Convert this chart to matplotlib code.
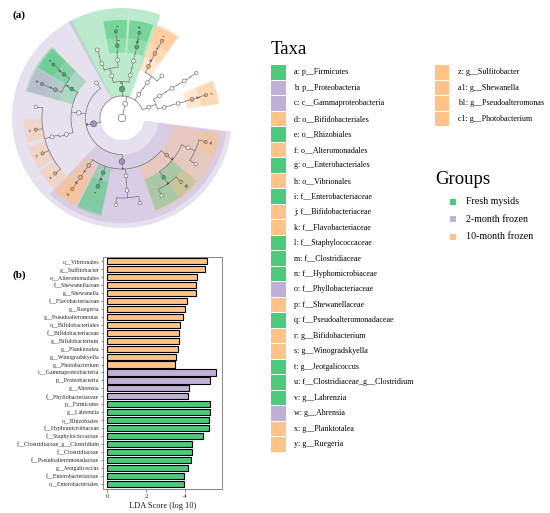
import numpy as np
import matplotlib
matplotlib.use("Agg")
import matplotlib.pyplot as plt
from matplotlib.patches import Wedge, Circle, Rectangle

plt.rcParams['font.family'] = ['Liberation Serif', 'DejaVu Serif']

# group colours
GREEN = "#4cc97a"
PURPLE = "#c2afd7"
ORANGE = "#ffc287"
group_color = {"G": GREEN, "P": PURPLE, "O": ORANGE}

# ---------------- LDA bar data (top to bottom) ----------------
bar_labels = [
    "o__Vibrionales", "g__Sulfitobacter", "o__Alteromonadales", "f__Shewanellaceae",
    "g__Shewanella", "f__Flavobacteriaceae", "g__Ruegeria", "g__Pseudoalteromonas",
    "o__Bifidobacteriales", "f__Bifidobacteriaceae", "g__Bifidobacterium",
    "g__Planktotalea", "g__Winogradskyella", "g__Photobacterium",
    "c__Gammaproteobacteria", "p__Proteobacteria", "g__Ahrensia", "f__Phyllobacteriaceae",
    "p__Firmicutes", "g__Labrenzia", "o__Rhizobiales", "f__Hyphomicrobiaceae",
    "f__Staphylococcaceae", "f__Clostridiaceae_g__Clostridium", "f__Clostridiaceae",
    "f__Pseudoalteromonadaceae", "g__Jeotgalicoccus", "f__Enterobacteriaceae",
    "o__Enterobacteriales",
]
bar_values = [5.17, 5.03, 4.62, 4.60, 4.60, 4.14, 4.02, 3.91, 3.78, 3.72, 3.71, 3.66,
              3.55, 3.50, 5.64, 5.29, 4.21, 4.19, 5.31, 5.29, 5.28, 5.28, 4.93, 4.38,
              4.36, 4.34, 4.16, 3.97, 3.97]
bar_groups = ["O"] * 14 + ["P"] * 4 + ["G"] * 11

# ---------------- legend (taxa) ----------------
taxa_keys = ["a", "b", "c", "d", "e", "f", "g", "h", "i", "j", "k", "l", "m", "n", "o",
             "p", "q", "r", "s", "t", "u", "v", "w", "x", "y", "z", "a1", "b1", "c1"]
taxa_names = ["p__Firmicutes", "p__Proteobacteria", "c__Gammaproteobacteria",
              "o__Bifidobacteriales", "o__Rhizobiales", "o__Alteromonadales",
              "o__Enterobacteriales", "o__Vibrionales", "f__Enterobacteriaceae",
              "f__Bifidobacteriaceae", "f__Flavobacteriaceae", "f__Staphylococcaceae",
              "f__Clostridiaceae", "f__Hyphomicrobiaceae", "f__Phyllobacteriaceae",
              "f__Shewanellaceae", "f__Pseudoalteromonadaceae", "g__Bifidobacterium",
              "g__Winogradskyella", "g__Jeotgalicoccus", "f__Clostridiaceae_g__Clostridium",
              "g__Labrenzia", "g__Ahrensia", "g__Planktotalea", "g__Ruegeria",
              "g__Sulfitobacter", "g__Shewanella", "g__Pseudoalteromonas",
              "g__Photobacterium"]
taxa_groups = ["G", "P", "P", "O", "G", "O", "G", "O", "G", "O", "O", "G", "G", "G", "P",
               "O", "G", "O", "O", "G", "G", "G", "P", "O", "O", "O", "O", "O", "O"]

group_names = ["Fresh mysids", "2-month frozen", "10-month frozen"]
group_keys = ["G", "P", "O"]

# ---------------- cladogram tree: name, parent, level, angle(deg), group ----------------
level_radius = [0, 14.5, 29, 43.5, 58, 72.5, 87]
tree = [
    ("root", None, 0, 0, None),
    ("K", "root", 1, 77, None),
    # Firmicutes
    ("a", "K", 2, 90, "G"),
    ("bacilli", "a", 3, 103.7, None),
    ("bacillales", "bacilli", 4, 94.4, None),
    ("l", "bacillales", 5, 93.8, "G"),
    ("t", "l", 6, 94.0, "G"),
    ("lacto_o", "bacilli", 4, 110.3, None),
    ("lacto_f", "lacto_o", 5, 110.0, None),
    ("clostridia", "a", 3, 79, None),
    ("clostridiales", "clostridia", 4, 78.6, None),
    ("m", "clostridiales", 5, 78.3, "G"),
    ("u", "m", 6, 78.5, "G"),
    # Actinobacteria
    ("actino", "K", 2, 54.7, None),
    ("actino_c", "actino", 3, 54.4, None),
    ("d", "actino_c", 4, 62.9, "O"),
    ("j", "d", 5, 63.0, "O"),
    ("r", "j", 6, 62.6, "O"),
    ("actino_o2", "actino_c", 4, 46.6, None),
    # Bacteroidetes
    ("bact", "K", 2, 22, None),
    ("bact_c1", "bact", 3, 30.5, None),
    ("bact_o1", "bact_c1", 4, 30.8, None),
    ("bact_f1", "bact_o1", 5, 30.8, None),
    ("bact_g1", "bact_f1", 6, 31.2, None),
    ("flavo_c", "bact", 3, 14.3, None),
    ("flavo_o", "flavo_c", 4, 14.6, None),
    ("k", "flavo_o", 5, 14.9, "O"),
    ("s", "k", 6, 15.3, "O"),
    # Proteobacteria
    ("b", "K", 2, 191.5, "P"),
    ("proteo_c2", "b", 3, 126, None),
    ("alpha", "b", 3, 173.3, None),
    ("e", "alpha", 4, 150, "G"),
    ("n", "e", 5, 143, "G"),
    ("v", "n", 6, 142, "G"),
    ("o", "e", 5, 157, "P"),
    ("w", "o", 6, 157, "P"),
    ("rhodo_o", "alpha", 4, 196.5, None),
    ("rhodo_f", "rhodo_o", 5, 195, None),
    ("rhodo_g1", "rhodo_f", 6, 172.7, None),
    ("x", "rhodo_f", 6, 187.7, "O"),
    ("y", "rhodo_f", 6, 204, "O"),
    ("z", "rhodo_f", 6, 219.7, "O"),
    ("c", "b", 3, 270, "P"),
    ("f", "c", 4, 235, "O"),
    ("p", "f", 5, 235, "O"),
    ("a1", "p", 6, 235, "O"),
    ("g", "c", 4, 251, "G"),
    ("i", "g", 5, 250.6, "G"),
    ("gam_o3", "c", 4, 274, None),
    ("gam_f3", "gam_o3", 5, 274, None),
    ("gam_g3a", "gam_f3", 6, 266, None),
    ("gam_g3b", "gam_f3", 6, 282, None),
    ("h", "c", 4, 320.3, "O"),
    ("q", "h", 5, 305, "G"),
    ("q_g1", "q", 6, 297, None),
    ("b1", "q", 6, 312.7, "O"),
    ("vib_f", "h", 5, 335.8, None),
    ("vib_g1", "vib_f", 6, 328, None),
    ("c1", "vib_f", 6, 344, "O"),
]

node_size = {"root": 3.8, "K": 2.4, "a": 2.7, "b": 3.0, "c": 2.8, "bact": 2.0,
             "actino": 2.0, "alpha": 2.2}

fig = plt.figure(figsize=(5.5, 5.13), dpi=100)

# ================= cladogram =================
cx, cy, half = 122, 118, 117
axc = fig.add_axes([(cx - half) / 550, (513 - cy - half) / 513, 2 * half / 550, 2 * half / 513])
axc.set_xlim(-half, half)
axc.set_ylim(-half, half)
axc.axis("off")

nodes = {t[0]: t for t in tree}
children = {}
for t in tree:
    if t[1] is not None:
        children.setdefault(t[1], []).append(t[0])


def leaf_angles(name):
    ch = children.get(name, [])
    if not ch:
        return [nodes[name][3]]
    out = []
    for c in ch:
        out += leaf_angles(c)
    return out


def polar(r, th):
    return r * np.cos(np.radians(th)), r * np.sin(np.radians(th))


# shaded clades
outer_by_level = {2: 110, 3: 105, 4: 100, 5: 98, 6: 98}
margin_by_level = {2: 9, 3: 8.5, 4: 7.5, 5: 7, 6: 7}
for lvl in range(2, 7):
    for name, parent, level, th, grp in tree:
        if grp is None or level != lvl:
            continue
        la = leaf_angles(name)
        m = margin_by_level[level]
        r_in = level_radius[level] - 7
        r_out = outer_by_level[level]
        axc.add_patch(Wedge((0, 0), r_out, min(la) - m, max(la) + m, width=r_out - r_in,
                            facecolor=group_color[grp], alpha=0.38, edgecolor="none", zorder=1))

# branches
for pname, ch in children.items():
    _, _, plev, pth, _ = nodes[pname]
    rp = level_radius[plev]
    clev = nodes[ch[0]][2]
    r_arc = level_radius[clev] - 7
    angs = [nodes[c][3] for c in ch] + ([pth] if rp > 0 else [])
    if rp > 0:
        x0, y0 = polar(rp, pth)
        x1, y1 = polar(r_arc, pth)
        axc.plot([x0, x1], [y0, y1], color="0.45", lw=0.5, zorder=2)
        tt = np.linspace(min(angs), max(angs), 120)
        axc.plot(r_arc * np.cos(np.radians(tt)), r_arc * np.sin(np.radians(tt)),
                 color="0.45", lw=0.5, zorder=2)
        for c in ch:
            cth, clv = nodes[c][3], nodes[c][2]
            xa, ya = polar(r_arc, cth)
            xb, yb = polar(level_radius[clv], cth)
            axc.plot([xa, xb], [ya, yb], color="0.45", lw=0.5, zorder=2)
    else:
        for c in ch:
            xb, yb = polar(level_radius[nodes[c][2]], nodes[c][3])
            axc.plot([0, xb], [0, yb], color="0.45", lw=0.5, zorder=2)

# nodes and labels
for name, parent, level, th, grp in tree:
    x, y = polar(level_radius[level], th)
    rad = node_size.get(name, 1.9 if level < 6 else 1.6)
    fc = "white" if grp is None else group_color[grp]
    if grp == "G":
        fc = "#36b866"
    elif grp == "O":
        fc = "#f7b060"
    elif grp == "P":
        fc = "#a98fc6"
    axc.add_patch(Circle((x, y), rad, facecolor=fc, edgecolor="0.35", lw=0.4, zorder=3))
    if grp is not None:
        lx, ly = polar(level_radius[level] + rad + 4, th)
        rot = th if (th <= 90 or th >= 270) else th - 180
        axc.text(lx, ly, name, fontsize=3, ha="center", va="center", rotation=rot - 90
                 if False else rot, zorder=4)

fig.text(12 / 550, 1 - 15 / 513, "(a)", fontsize=8, fontweight="bold", va="center")
fig.text(12 / 550, 1 - 275 / 513, "(b)", fontsize=8, fontweight="bold", va="center")

# ================= taxa legend =================
fig.text(271 / 550, 1 - 49 / 513, "Taxa", fontsize=13.5, va="center")
row0, step = 72.3, 15.5
for i, (k, nm, g) in enumerate(zip(taxa_keys, taxa_names, taxa_groups)):
    col, row = (0, i) if i < 25 else (1, i - 25)
    xs = 271 if col == 0 else 434.5
    yc = row0 + row * step
    fig.patches.append(Rectangle((xs / 550, 1 - (yc + 7.2) / 513), 14.5 / 550, 14.4 / 513,
                                 transform=fig.transFigure, facecolor=group_color[g],
                                 edgecolor="none"))
    fig.text((xs + 23.5) / 550, 1 - yc / 513, f"{k}: {nm}", fontsize=5.8, va="center")

fig.text(435 / 550, 1 - 180 / 513, "Groups", fontsize=13.5, va="center")
for j, (gk, gn) in enumerate(zip(group_keys, group_names)):
    yc = 201.7 + j * 17.5
    fig.patches.append(Rectangle((450 / 550, 1 - (yc + 3) / 513), 6 / 550, 6 / 513,
                                 transform=fig.transFigure, facecolor=group_color[gk],
                                 edgecolor="none"))
    fig.text(466.5 / 550, 1 - yc / 513, gn, fontsize=7.2, va="center")

# ================= LDA bar chart =================
axb = fig.add_axes([103.3 / 550, 24 / 513, 118.4 / 550, 232 / 513])
ypos = np.arange(len(bar_values))
axb.barh(ypos, bar_values, height=0.78, color=[group_color[g] for g in bar_groups],
         edgecolor="black", linewidth=0.8)
axb.set_ylim(len(bar_values) - 0.33, -0.54)
axb.set_xlim(-0.207, 5.92)
axb.set_yticks(ypos)
axb.set_yticklabels(bar_labels, fontsize=4.2)
axb.set_xticks([0, 2, 4])
axb.tick_params(axis="x", labelsize=5, length=2, width=0.5, pad=1.5, colors="0.3")
axb.tick_params(axis="y", length=1.8, width=0.5, pad=1, colors="0.3")
for lab in axb.get_yticklabels() + axb.get_xticklabels():
    lab.set_color("0.15")
for sp in axb.spines.values():
    sp.set_color("0.45")
    sp.set_linewidth(0.6)
axb.set_xlabel("LDA Score (log 10)", fontsize=6, labelpad=2, color="0.1")

fig.savefig("out.png", dpi=100)
